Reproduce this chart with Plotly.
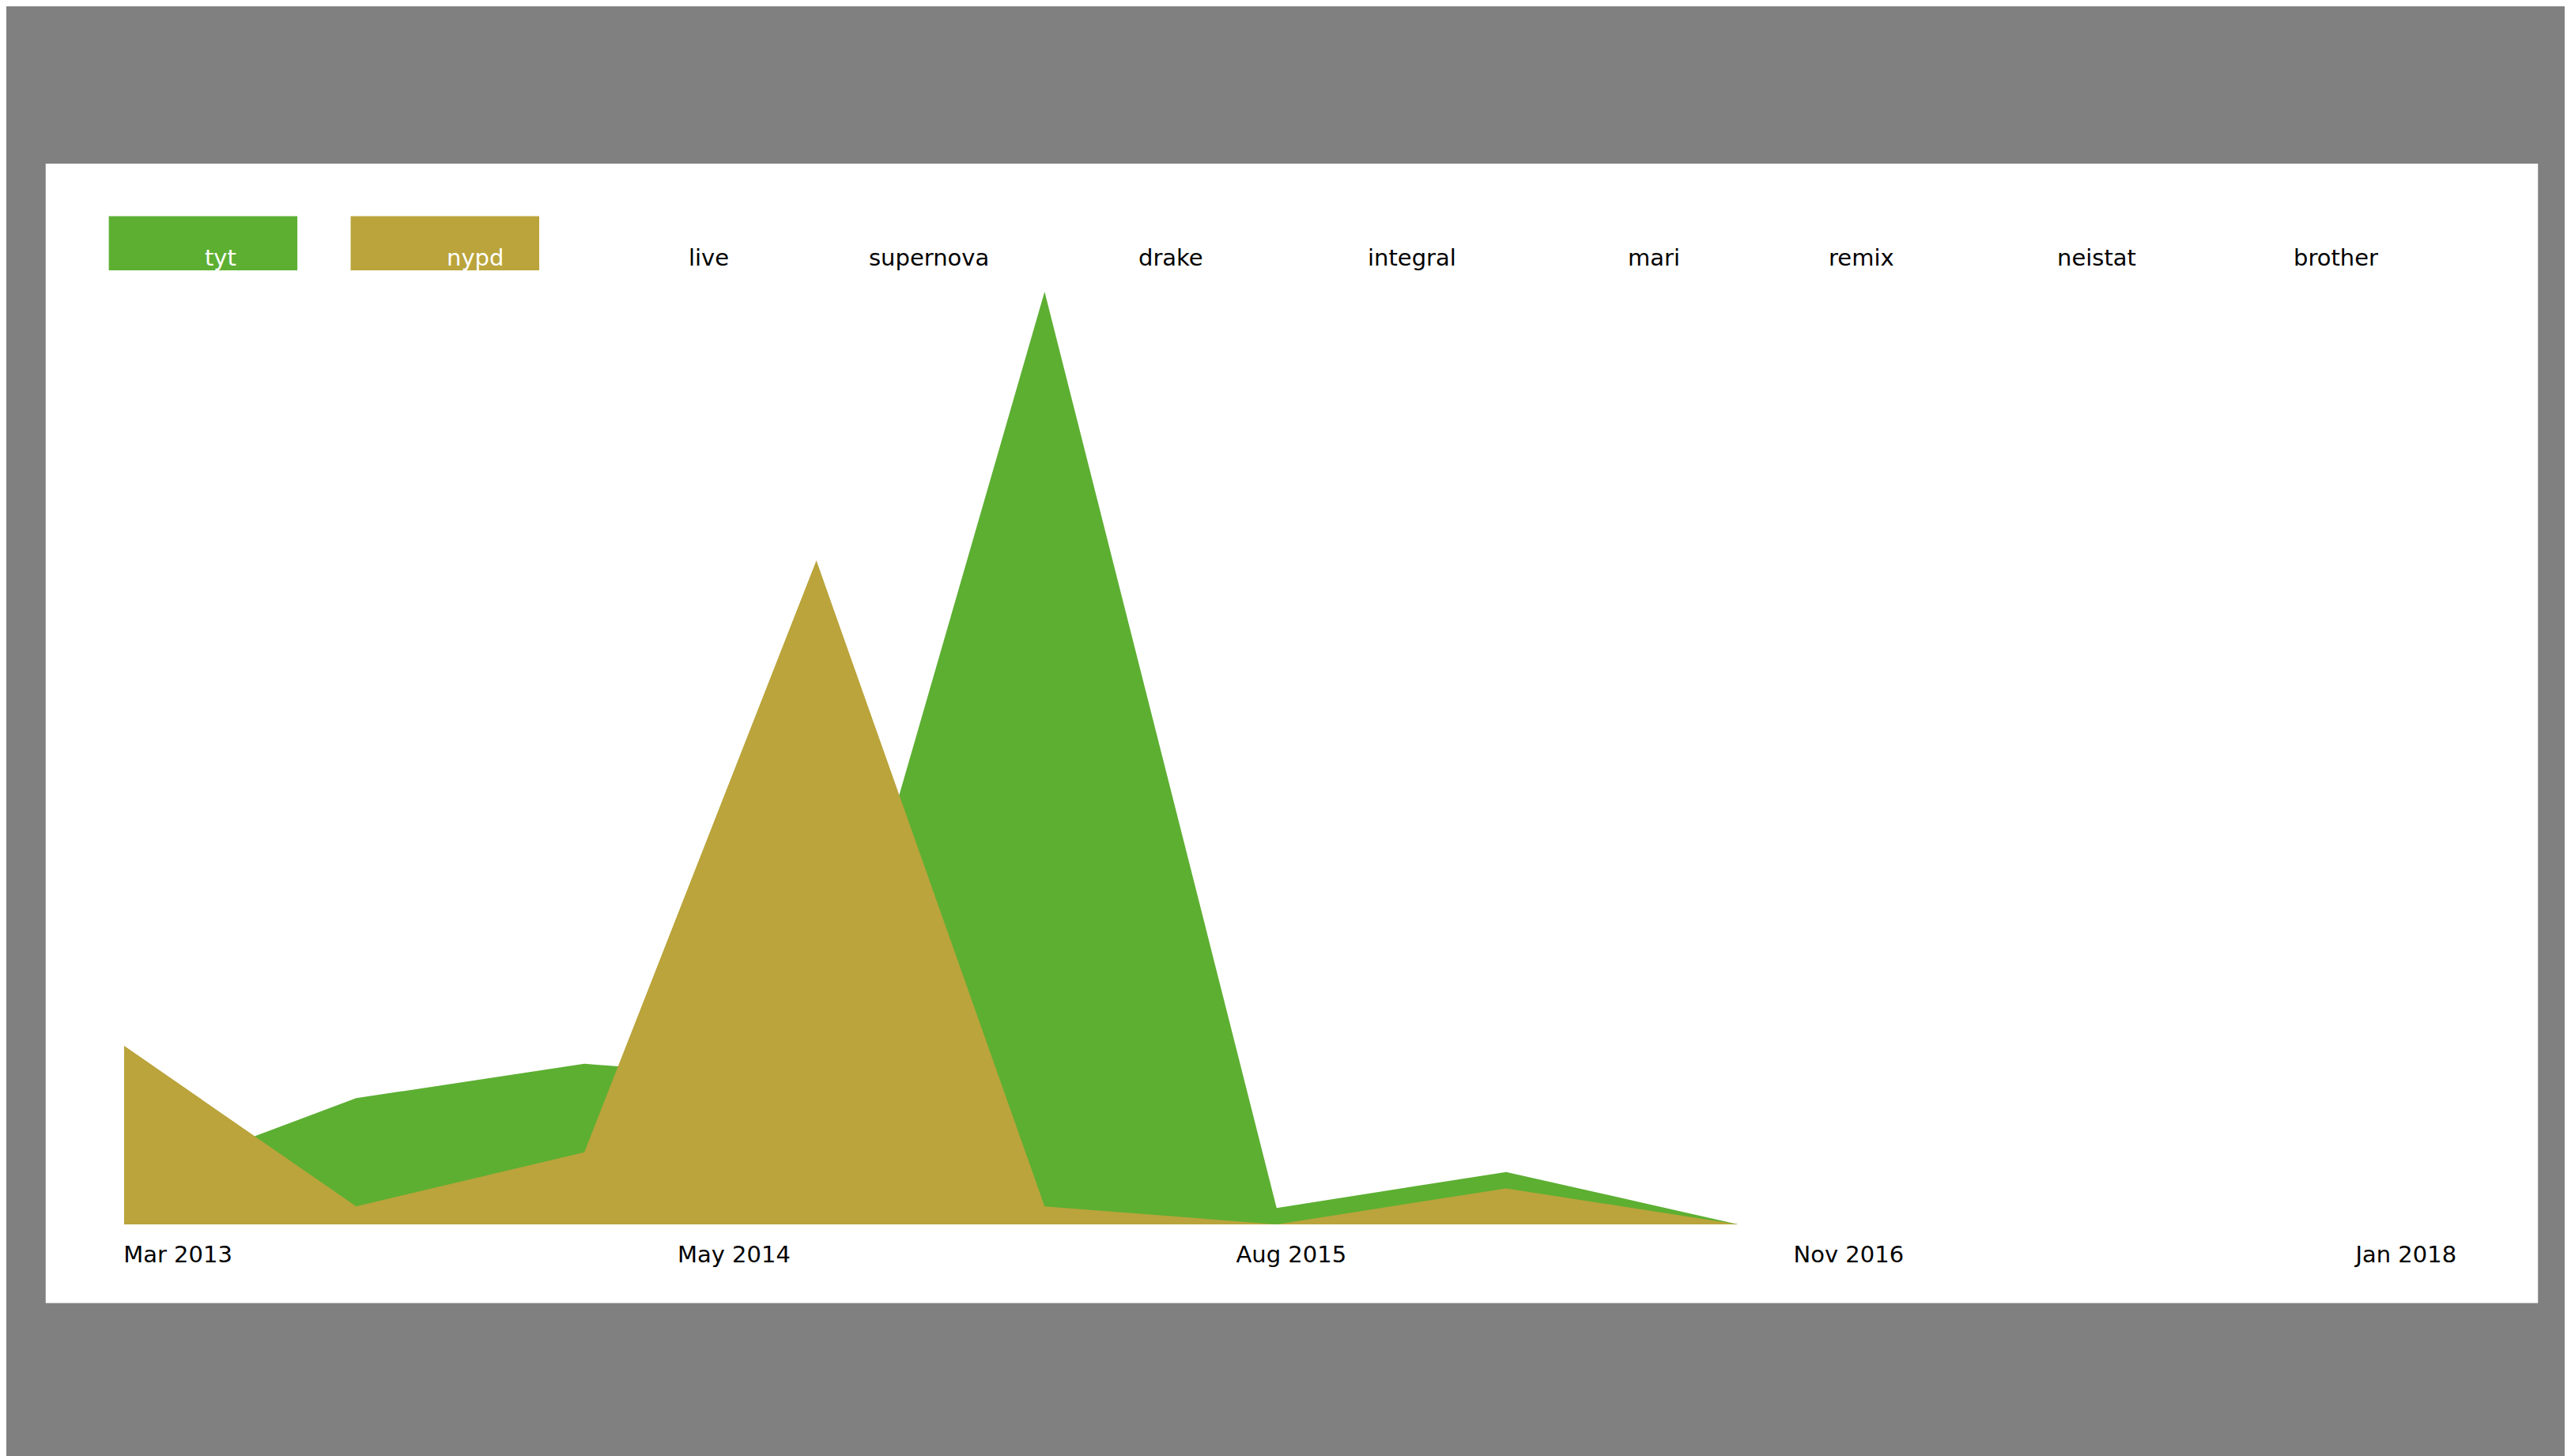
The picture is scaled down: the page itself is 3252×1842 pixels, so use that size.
import plotly.graph_objects as go

dates = ["2013-03-01", "2013-09-01", "2014-03-01", "2014-09-01",
         "2015-03-01", "2015-09-01", "2016-03-01", "2016-09-01"]
tyt = [24, 77, 98, 87, 569, 10, 32, 0]
nypd = [109, 11, 44, 405, 11, 0, 22, 0]
legend_names = ["tyt", "nypd", "live", "supernova", "drake", "integral",
                "mari", "remix", "neistat", "brother"]
tick_vals = ["2013-03-01", "2014-05-16", "2015-08-01", "2016-10-16", "2018-01-01"]
tick_text = ["Mar 2013", "May 2014", "Aug 2015", "Nov 2016", "Jan 2018"]

GREEN = "#5daf32"
GOLD = "#baa43b"

fig = go.Figure()
fig.add_trace(go.Scatter(x=dates, y=tyt, name="tyt", mode="lines", line=dict(width=0, color=GREEN),
                         fill="tozeroy", fillcolor=GREEN))
fig.add_trace(go.Scatter(x=dates, y=nypd, name="nypd", mode="lines", line=dict(width=0, color=GOLD),
                         fill="tozeroy", fillcolor=GOLD))

W, H = 3252, 1842
L, R, T, B = 149, 79, 361, 301
pw, ph = W - L - R, H - T - B
s = 2.074

def px_x(d):
    return (d * s - L) / pw

def px_y(d):
    return (H - B - d * s) / ph

# white panel
fig.add_shape(type="rect", xref="paper", yref="paper", layer="below",
              x0=px_x(24), x1=px_x(1544), y0=px_y(791), y1=px_y(96),
              fillcolor="white", line=dict(width=0))

# custom legend
colors = {"tyt": GREEN, "nypd": GOLD}
for i, name in enumerate(legend_names):
    cx = 120 + i * 147.5
    if name in colors:
        fig.add_shape(type="rect", xref="paper", yref="paper",
                      x0=px_x(cx - 57.5), x1=px_x(cx + 57.5),
                      y0=px_y(161), y1=px_y(128),
                      fillcolor=colors[name], line=dict(width=0))
    fig.add_annotation(x=px_x(cx), y=px_y(144), xref="paper", yref="paper",
                       text=name, showarrow=False,
                       font=dict(size=29, color="white" if name in colors else "black"))

fig.update_layout(
    width=W, height=H,
    margin=dict(l=L, r=R, t=T, b=B),
    paper_bgcolor="#808080", plot_bgcolor="white",
    showlegend=False,
    font=dict(family="DejaVu Sans", size=29, color="black"),
    xaxis=dict(type="date", range=["2013-03-01", "2018-05-10"], showgrid=False,
               zeroline=False, showline=False, tickvals=tick_vals, ticktext=tick_text,
               ticks="", ticklabelshift=68, ticklabelstandoff=18),
    yaxis=dict(range=[0, 569], visible=False, showgrid=False),
)

fig.write_html("out.html")
